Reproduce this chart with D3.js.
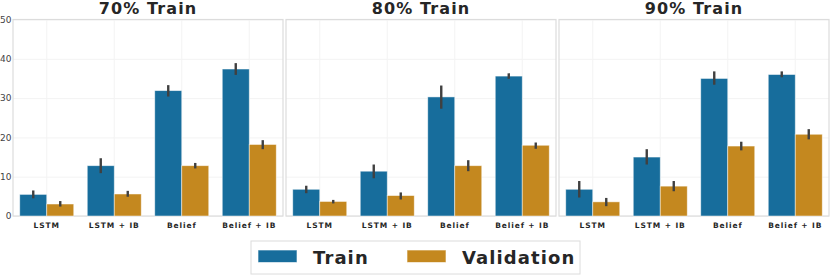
<!DOCTYPE html>
<html>
<head>
<meta charset="utf-8">
<script src="https://cdn.jsdelivr.net/npm/d3@7"></script>
<style>
  body { margin: 0; background: #fff; }
  svg { display: block; font-family: 'DejaVu Sans', sans-serif; }
</style>
</head>
<body>
<div id="chart"></div>
<script>
const panels = ['70% Train', '80% Train', '90% Train']
const categories = ['LSTM', 'LSTM + IB', 'Belief', 'Belief + IB']
const seriesNames = ['Train', 'Validation']
const yTicks = [0, 10, 20, 30, 40, 50]

// mean per panel, per category
const trainMeans = [
    [5.5, 12.8, 31.9, 37.4],
    [6.8, 11.4, 30.3, 35.6],
    [6.8, 15.0, 35.0, 36.0]
]
const trainLow = [
    [4.5, 10.9, 30.4, 35.9],
    [5.8, 9.6, 27.3, 34.9],
    [4.7, 13.1, 33.4, 35.3]
]
const trainHigh = [
    [6.5, 14.7, 33.3, 38.9],
    [7.7, 13.1, 33.2, 36.3],
    [8.9, 17.0, 36.8, 36.8]
]
const valMeans = [
    [3.05, 5.6, 12.8, 18.2],
    [3.7, 5.2, 12.8, 18.0],
    [3.6, 7.6, 17.8, 20.8]
]
const valLow = [
    [2.4, 4.9, 12.1, 17.0],
    [3.2, 4.2, 11.4, 17.1],
    [2.5, 6.3, 16.7, 19.5]
]
const valHigh = [
    [3.8, 6.4, 13.5, 19.3],
    [4.1, 6.0, 14.2, 18.7],
    [4.6, 8.9, 18.9, 22.1]
]

const colors = ['#176d9c', '#c4881f']
const W = 830, H = 275
const panelLeft = [13, 286, 559]
const panelWidth = 270
const plotTop = 19.5, plotBottom = 216

const svg = d3.select('#chart')
    .append('svg')
    .attr('width', W)
    .attr('height', H)

const y = d3.scaleLinear().domain([0, 50]).range([plotBottom, plotTop])

panels.forEach((title, p) => {
    const g = svg.append('g').attr('transform', `translate(${panelLeft[p]}, 0)`)

    const x = d3.scaleBand()
        .domain(categories)
        .range([0, panelWidth])
        .paddingInner(0.2)
        .paddingOuter(0.1)
    const xs = d3.scaleBand().domain(seriesNames).range([0, x.bandwidth()])

    // grid, barely visible like the whitegrid style
    g.append('g')
        .call(d3.axisLeft(y).tickValues(yTicks).tickSize(-panelWidth).tickFormat(''))
        .call(s => s.select('.domain').remove())
        .call(s => s.selectAll('line').attr('stroke', '#f3f3f3'))
    g.append('g')
        .attr('transform', `translate(0, ${plotBottom})`)
        .call(d3.axisBottom(x).tickSize(-(plotBottom - plotTop)).tickFormat(''))
        .call(s => s.select('.domain').remove())
        .call(s => s.selectAll('line').attr('stroke', '#f3f3f3'))

    // frame
    g.append('rect')
        .attr('x', 0).attr('y', plotTop)
        .attr('width', panelWidth).attr('height', plotBottom - plotTop)
        .attr('fill', 'none')
        .attr('stroke', '#dcdcdc')
        .attr('stroke-width', 1.2)

    const rows = categories.map((c, i) => ({
        cat: c,
        vals: [
            { s: 'Train', m: trainMeans[p][i], lo: trainLow[p][i], hi: trainHigh[p][i] },
            { s: 'Validation', m: valMeans[p][i], lo: valLow[p][i], hi: valHigh[p][i] }
        ]
    }))

    const grp = g.selectAll('.grp')
        .data(rows)
        .join('g')
        .attr('class', 'grp')
        .attr('transform', d => `translate(${x(d.cat)}, 0)`)

    grp.selectAll('rect')
        .data(d => d.vals)
        .join('rect')
        .attr('x', d => xs(d.s))
        .attr('y', d => y(d.m))
        .attr('width', xs.bandwidth())
        .attr('height', d => y(0) - y(d.m))
        .attr('fill', (d, i) => colors[i])
        .attr('stroke', '#fff')
        .attr('stroke-opacity', 0.6)
        .attr('stroke-width', 0.8)

    grp.selectAll('line')
        .data(d => d.vals)
        .join('line')
        .attr('x1', d => xs(d.s) + xs.bandwidth() / 2)
        .attr('x2', d => xs(d.s) + xs.bandwidth() / 2)
        .attr('y1', d => y(d.lo))
        .attr('y2', d => y(d.hi))
        .attr('stroke', '#404040')
        .attr('stroke-width', 2.4)

    // x labels
    g.append('g')
        .attr('transform', `translate(0, ${plotBottom})`)
        .call(d3.axisBottom(x).tickSize(0).tickPadding(7))
        .call(s => s.select('.domain').remove())
        .call(s => s.selectAll('text')
            .attr('font-size', 7.5)
            .attr('font-weight', 'bold')
            .attr('letter-spacing', 0.9)
            .attr('fill', '#262626')
            .attr('font-family', 'DejaVu Sans'))

    if (p === 0) {
        g.append('g')
            .call(d3.axisLeft(y).tickValues(yTicks).tickSize(0).tickPadding(1.5))
            .call(s => s.select('.domain').remove())
            .call(s => s.selectAll('text')
                .attr('font-size', 9)
                .attr('fill', '#444')
                .attr('font-family', 'DejaVu Sans'))
    }

    g.append('text')
        .attr('x', panelWidth / 2)
        .attr('y', 14)
        .attr('text-anchor', 'middle')
        .attr('font-size', 16)
        .attr('font-weight', 'bold')
        .attr('letter-spacing', 1.1)
        .attr('fill', '#262626')
        .text(title)
})

// legend
const legend = svg.append('g').attr('transform', 'translate(251, 241)')
legend.append('rect')
    .attr('width', 329).attr('height', 33)
    .attr('fill', '#fff')
    .attr('stroke', '#dcdcdc')
const legendX = [7, 156]
seriesNames.forEach((name, i) => {
    legend.append('rect')
        .attr('x', legendX[i]).attr('y', 9)
        .attr('width', 39).attr('height', 12.5)
        .attr('fill', colors[i])
        .attr('stroke', '#fff')
        .attr('stroke-opacity', 0.6)
    legend.append('text')
        .attr('x', legendX[i] + 55)
        .attr('y', 22.5)
        .attr('font-size', 18)
        .attr('font-weight', 'bold')
        .attr('letter-spacing', 1.1)
        .attr('fill', '#262626')
        .text(name)
})
</script>
</body>
</html>
